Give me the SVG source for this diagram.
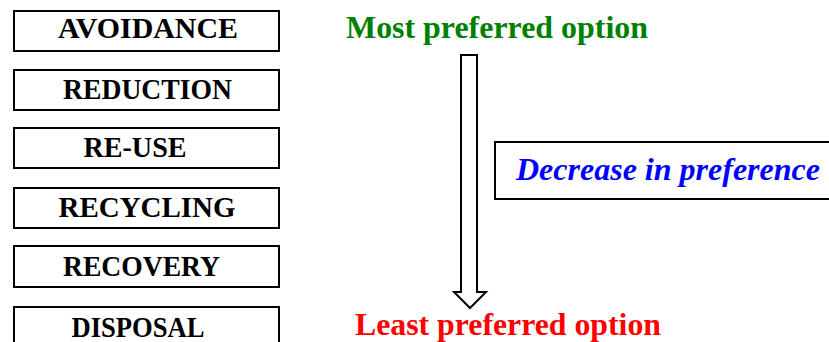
<svg xmlns="http://www.w3.org/2000/svg" width="829" height="342" viewBox="0 0 829 342">
<style>
.box{fill:#fff;stroke:#000;stroke-width:2}
.lbl{font-family:"Liberation Serif","Times New Roman",serif;font-weight:bold;font-size:29px;fill:#000;text-anchor:middle}
.big{font-family:"Liberation Serif","Times New Roman",serif;font-weight:bold;font-size:31px;text-anchor:middle}
</style>
<rect width="829" height="342" fill="#fff"/>
<g id="avoidance"><rect class="box" x="14" y="11" width="265" height="40"/><text class="lbl" x="148" y="38" textLength="180" lengthAdjust="spacingAndGlyphs">AVOIDANCE</text></g>
<g id="reduction"><rect class="box" x="14" y="70" width="265" height="40"/><text class="lbl" x="147.5" y="99" textLength="169" lengthAdjust="spacingAndGlyphs">REDUCTION</text></g>
<g id="reuse"><rect class="box" x="14" y="128" width="265" height="40"/><text class="lbl" x="135" y="157" textLength="103" lengthAdjust="spacingAndGlyphs">RE-USE</text></g>
<g id="recycling"><rect class="box" x="14" y="188" width="265" height="40"/><text class="lbl" x="147" y="217" textLength="177" lengthAdjust="spacingAndGlyphs">RECYCLING</text></g>
<g id="recovery"><rect class="box" x="14" y="246" width="265" height="41"/><text class="lbl" x="141.5" y="276" textLength="157" lengthAdjust="spacingAndGlyphs">RECOVERY</text></g>
<g id="disposal"><rect class="box" x="14" y="307" width="265" height="45"/><text class="lbl" x="138" y="337" textLength="133" lengthAdjust="spacingAndGlyphs">DISPOSAL</text></g>
<g id="most"><text class="big" x="497" y="38" fill="#008000" textLength="302" lengthAdjust="spacingAndGlyphs">Most preferred option</text></g>
<g id="least"><text class="big" x="508" y="335" fill="#ff0000" textLength="306" lengthAdjust="spacingAndGlyphs">Least preferred option</text></g>
<g id="decrease"><rect class="box" x="495" y="142" width="345" height="57"/><text x="668" y="180" font-family="'Liberation Serif','Times New Roman',serif" font-weight="bold" font-style="italic" font-size="31" fill="#0000ff" text-anchor="middle" textLength="304" lengthAdjust="spacingAndGlyphs">Decrease in preference</text></g>
<g id="connectors"><path d="M461,55 L477,55 L477,292 L486,292 L470,308 L454,292 L461,292 Z" fill="#fff" stroke="#000" stroke-width="2" stroke-linejoin="miter"/></g>
</svg>
